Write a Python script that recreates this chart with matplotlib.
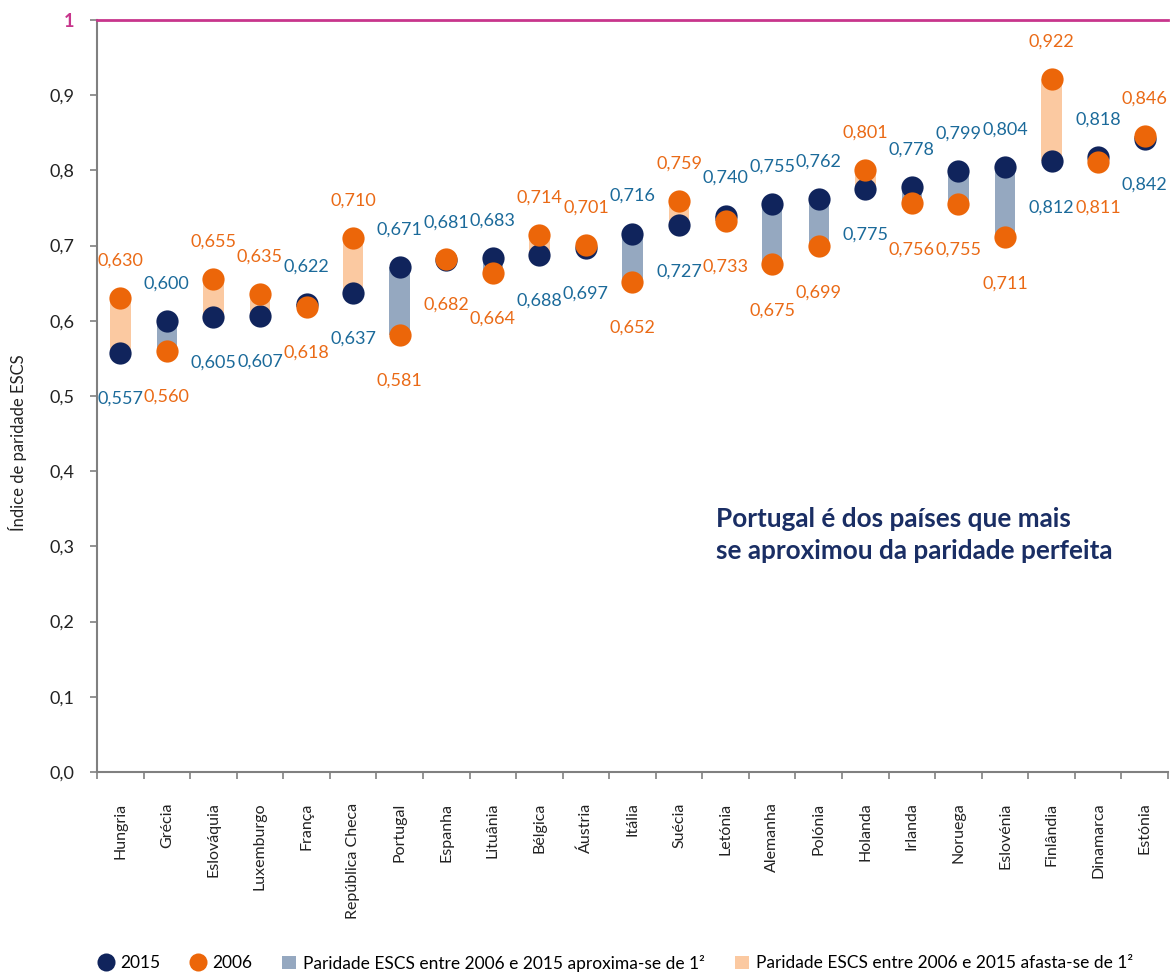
import matplotlib
matplotlib.use("Agg")
import matplotlib.pyplot as plt
from matplotlib.lines import Line2D
from matplotlib.patches import Patch
import numpy as np

countries = ["Hungria", "Grécia", "Eslováquia", "Luxemburgo", "França", "República Checa",
             "Portugal", "Espanha", "Lituânia", "Bélgica", "Áustria", "Itália", "Suécia",
             "Letónia", "Alemanha", "Polónia", "Holanda", "Irlanda", "Noruega", "Eslovénia",
             "Finlândia", "Dinamarca", "Estónia"]
v2015 = [0.557, 0.600, 0.605, 0.607, 0.622, 0.637, 0.671, 0.681, 0.683, 0.688, 0.697, 0.716,
         0.727, 0.740, 0.755, 0.762, 0.775, 0.778, 0.799, 0.804, 0.812, 0.818, 0.842]
v2006 = [0.630, 0.560, 0.655, 0.635, 0.618, 0.710, 0.581, 0.682, 0.664, 0.714, 0.701, 0.652,
         0.759, 0.733, 0.675, 0.699, 0.801, 0.756, 0.755, 0.711, 0.922, 0.811, 0.846]
# whether the 2015 label sits above the pair (otherwise the 2006 label does)
label2015_above = [a >= b for a, b in zip(v2015, v2006)]
label2015_above[countries.index("Espanha")] = True

yticks = [0.0, 0.1, 0.2, 0.3, 0.4, 0.5, 0.6, 0.7, 0.8, 0.9, 1.0]
ytick_labels = ["0,0", "0,1", "0,2", "0,3", "0,4", "0,5", "0,6", "0,7", "0,8", "0,9", "1"]

NAVY = "#10245C"
ORANGE = "#EC6609"
BAR_BLUE = "#95A8C0"
BAR_ORANGE = "#FBC9A1"
LBL_BLUE = "#1B6A9A"
LBL_ORANGE = "#EA6A16"
MAGENTA = "#C8358C"
GRAY = "#808080"

plt.rcParams["font.family"] = ["Lato", "DejaVu Sans"]

fig = plt.figure(figsize=(11.71, 9.73), dpi=100)
ax = fig.add_axes([97 / 1171, 201 / 973, (1168 - 97) / 1171, 752 / 973])

x = np.arange(len(countries))
for i in range(len(countries)):
    a, b = v2015[i], v2006[i]
    lo, hi = min(a, b), max(a, b)
    col = BAR_BLUE if a > b else BAR_ORANGE
    ax.bar(x[i], hi - lo, bottom=lo, width=0.44, color=col, zorder=1)

ax.plot(x, v2015, "o", color=NAVY, markersize=16, markeredgewidth=0, zorder=3)
ax.plot(x, v2006, "o", color=ORANGE, markersize=16, markeredgewidth=0, zorder=4)

for i in range(len(countries)):
    a, b = v2015[i], v2006[i]
    s15 = f"{a:.3f}".replace(".", ",")
    s06 = f"{b:.3f}".replace(".", ",")
    if label2015_above[i]:
        ax.annotate(s15, (x[i], a), xytext=(0, 27), textcoords="offset points",
                    ha="center", va="center", color=LBL_BLUE, fontsize=13)
        ax.annotate(s06, (x[i], b), xytext=(0, -33), textcoords="offset points",
                    ha="center", va="center", color=LBL_ORANGE, fontsize=13)
    else:
        ax.annotate(s06, (x[i], b), xytext=(0, 27), textcoords="offset points",
                    ha="center", va="center", color=LBL_ORANGE, fontsize=13)
        ax.annotate(s15, (x[i], a), xytext=(0, -33), textcoords="offset points",
                    ha="center", va="center", color=LBL_BLUE, fontsize=13)

ax.axhline(1.0, color=MAGENTA, linewidth=2, zorder=5, clip_on=False)

ax.set_xlim(-0.5, len(countries) - 0.5)
ax.set_ylim(0, 1.0)
ax.set_yticks(yticks)
ax.set_yticklabels(ytick_labels)
for lbl in ax.get_yticklabels():
    lbl.set_fontsize(13)
    lbl.set_color("#222222")
ax.get_yticklabels()[-1].set_color(MAGENTA)
ax.get_yticklabels()[-1].set_fontweight("bold")
ax.tick_params(axis="y", length=5, width=1.2, color=GRAY, pad=11)

ax.set_xticks(x)
ax.set_xticklabels(countries, rotation=90, fontsize=11.5, color="#222222")
ax.set_xticks(np.arange(-0.5, len(countries), 1), minor=True)
ax.tick_params(axis="x", which="major", length=0, pad=22)
ax.tick_params(axis="x", which="minor", length=5, width=1.2, color=GRAY, direction="out")

for s in ["top", "right"]:
    ax.spines[s].set_visible(False)
for s in ["left", "bottom"]:
    ax.spines[s].set_color(GRAY)
    ax.spines[s].set_linewidth(1.5)

fig.text(18 / 1171, 1 - 443 / 973, "Índice de paridade ESCS", rotation=90,
         ha="center", va="center", fontsize=12, color="#222222")

ax.text(716 / 1171, 1 - 535 / 973, "Portugal é dos países que mais\nse aproximou da paridade perfeita",
        transform=fig.transFigure, ha="left", va="center", fontsize=18.8,
        fontweight="bold", color="#1A2E64", linespacing=1.4)

handles = [
    Line2D([], [], marker="o", linestyle="none", color=NAVY, markersize=13, markeredgewidth=0),
    Line2D([], [], marker="o", linestyle="none", color=ORANGE, markersize=13, markeredgewidth=0),
    Patch(facecolor=BAR_BLUE, edgecolor="none"),
    Patch(facecolor=BAR_ORANGE, edgecolor="none"),
]
labels = ["2015", "2006", "Paridade ESCS entre 2006 e 2015 aproxima-se de 1²",
          "Paridade ESCS entre 2006 e 2015 afasta-se de 1²"]
fig.legend(handles, labels, loc="center left", bbox_to_anchor=(99 / 1171, 1 - 963 / 973),
           ncol=4, frameon=False, fontsize=12.5, handlelength=0.85, handletextpad=0.4,
           columnspacing=1.7, borderaxespad=0, borderpad=0)

fig.savefig("out.png", dpi=100)
